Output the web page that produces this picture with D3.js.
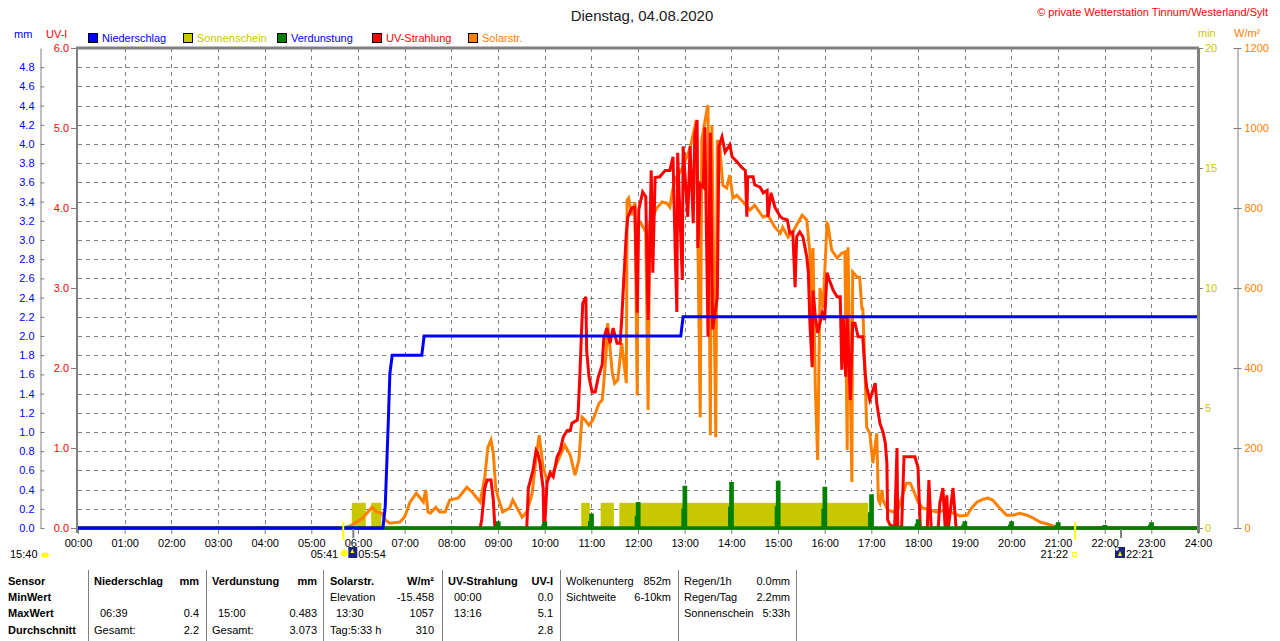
<!DOCTYPE html>
<html>
<head>
<meta charset="utf-8">
<script src="https://cdn.jsdelivr.net/npm/d3@7/dist/d3.min.js"></script>
<style>
body { margin: 0; background: #fff; }
text { font-family: "Liberation Sans", Arial, sans-serif; font-size: 11px; }
</style>
</head>
<body>
<div id="chart"></div>
<script>
// Werte
var titleText = "Dienstag, 04.08.2020";
var copyText = "\u00a9 private Wetterstation Tinnum/Westerland/Sylt";

var hourLabels = ["00:00","01:00","02:00","03:00","04:00","05:00","06:00","07:00","08:00","09:00","10:00","11:00","12:00",
    "13:00","14:00","15:00","16:00","17:00","18:00","19:00","20:00","21:00","22:00","23:00","24:00"];
var mmTicks = [0.0,0.2,0.4,0.6,0.8,1.0,1.2,1.4,1.6,1.8,2.0,2.2,2.4,2.6,2.8,3.0,3.2,3.4,3.6,3.8,4.0,4.2,4.4,4.6,4.8];
var uvTicks = [0,1,2,3,4,5,6];
var minTicks = [0,5,10,15,20];
var solarTicks = [0,200,400,600,800,1000,1200];

var legendNames = ["Niederschlag","Sonnenschein","Verdunstung","UV-Strahlung","Solarstr."];
var legendColors = ["#0000ff","#c8c800","#008000","#ff0000","#ff8000"];
var legendTextColors = ["#0000ff","#c8c800","#0000ff","#ff0000","#ff8000"];

// Niederschlag Tagessumme (mm)
var rainSeries = [["00:00",0],["06:32",0],["06:35",0.22],["06:39",1.12],["06:41",1.61],["06:44",1.8],
    ["07:22",1.8],["07:25",2.0],["12:55",2.0],["12:58",2.2],["24:00",2.2]];

// Sonnenschein (min)
var sunStart = ["05:52","06:17","10:47","11:12","11:36"];
var sunEnd   = ["06:10","06:30","10:58","11:29","16:56"];
var sunValue = [1.05,1.05,1.05,1.05,1.05];

// Verdunstung je Stunde (mm)
var evapTime = ["01:00","02:00","03:00","04:00","05:00","06:00","07:00","08:00","09:00","10:00","11:00","12:00",
    "13:00","14:00","15:00","16:00","17:00","18:00","19:00","20:00","21:00","22:00","23:00"];
var evapValue = [0.01,0.01,0.01,0.01,0.01,0.01,0.01,0.01,0.06,0.06,0.14,0.26,
    0.43,0.47,0.483,0.42,0.34,0.08,0.06,0.06,0.05,0.02,0.05];

// UV-Index
var uvSeries = [["00:00",0],["08:37",0],["08:39",0.1],["08:43",0.5],["08:46",0.6],["08:51",0.6],["08:54",0.35],["08:56",0],
    ["09:37",0],["09:39",0.5],["09:41",0.57],["09:45",0.72],["09:49",0.97],["09:51",0.94],["09:54",0.81],["09:58",0.5],
    ["09:59",0],["10:00",0],["10:03",0.56],["10:07",0.69],["10:11",0.64],["10:16",0.89],["10:20",0.97],["10:24",1.14],
    ["10:29",1.22],["10:33",1.22],["10:35",1.31],["10:42",1.35],["10:43",1.44],["10:45",1.85],["10:48",2.6],["10:49",2.81],
    ["10:53",2.89],["10:54",2.22],["10:57",1.89],["11:01",1.7],["11:05",1.7],["11:09",1.89],["11:14",2.04],["11:16",2.37],
    ["11:20",2.5],["11:24",2.31],["11:28",2.5],["11:33",2.31],["11:37",2.31],["11:39",2.6],["11:41",2.97],["11:45",3.69],
    ["11:47",3.89],["11:52",4.0],["11:56",4.01],["11:59",2.69],["12:01",3.98],["12:06",4.2],["12:10",4.14],["12:13",2.6],
    ["12:17",4.47],["12:19",3.19],["12:22",4.38],["12:28",4.39],["12:35",4.47],["12:41",4.47],["12:45",4.64],["12:48",3.39],
    ["12:50",2.7],["12:51",4.69],["12:57",3.1],["12:58",4.77],["13:04",3.89],["13:07",4.77],["13:11",3.81],["13:13",4.9],
    ["13:16",5.1],["13:17",3.5],["13:20",4.3],["13:24",4.26],["13:26",5.01],["13:30",2.39],["13:33",4.94],["13:36",2.48],
    ["13:42",2.89],["13:44",4.77],["13:48",4.89],["13:52",4.7],["13:58",4.79],["14:01",4.64],["14:07",4.58],["14:14",4.5],
    ["14:18",4.47],["14:20",3.89],["14:21",4.39],["14:28",4.39],["14:30",4.29],["14:37",4.26],["14:41",4.19],["14:46",4.22],
    ["14:47",3.89],["14:51",4.19],["14:56",4.01],["15:03",3.89],["15:06",3.87],["15:12",3.85],["15:15",3.69],["15:19",3.7],
    ["15:22",3.01],["15:24",3.64],["15:28",3.7],["15:32",3.64],["15:37",3.39],["15:39",3.2],["15:41",2.56],["15:44",2.01],
    ["15:45",2.97],["15:48",2.64],["15:51",2.44],["15:57",2.69],["16:00",2.6],["16:03",3.19],["16:06",3.1],["16:11",2.97],
    ["16:16",2.89],["16:20",2.89],["16:22",1.98],["16:24",2.64],["16:27",1.89],["16:29",2.64],["16:33",1.6],["16:36",2.56],
    ["16:39",2.56],["16:43",2.39],["16:49",2.39],["16:52",1.94],["16:54",1.76],["16:58",1.6],["17:05",1.81],["17:07",1.56],
    ["17:11",1.31],["17:15",1.2],["17:18",1.06],["17:20",0.81],["17:21",0.1],["17:24",0.04],["17:30",0.01],["17:33",1.0],
    ["17:34",0.01],["17:39",0.01],["17:42",0.89],["17:56",0.89],["18:00",0.76],["18:03",0],["18:12",0],["18:14",0.6],
    ["18:17",0],["18:26",0],["18:28",0.31],["18:32",0.5],["18:35",0],["18:37",0.41],["18:39",0],["18:45",0.5],
    ["18:49",0],["24:00",0]];

// Solarstrahlung (W/m2)
var solarSeries = [["00:00",0],["05:41",0],["05:50",5],["06:06",25],["06:18",52],["06:24",40],["06:31",37],["06:35",20],
    ["06:41",12],["06:54",15],["07:00",28],["07:07",65],["07:15",87],["07:20",75],["07:24",65],["07:27",95],["07:30",40],
    ["07:33",37],["07:40",52],["07:45",40],["07:52",40],["07:58",70],["08:09",75],["08:20",102],["08:28",87],["08:37",65],
    ["08:43",127],["08:47",202],["08:51",220],["08:54",187],["08:57",102],["09:00",77],["09:06",40],["09:15",50],["09:19",70],
    ["09:24",52],["09:31",27],["09:37",40],["09:44",87],["09:49",177],["09:53",232],["09:58",152],["10:03",120],["10:11",140],
    ["10:20",182],["10:26",207],["10:33",182],["10:39",132],["10:44",170],["10:48",277],["10:52",270],["10:57",257],
    ["11:02",270],["11:10",312],["11:14",320],["11:16",362],["11:19",437],["11:21",512],["11:27",387],["11:30",362],
    ["11:34",370],["11:39",462],["11:45",362],["11:46",820],["11:48",825],["11:52",782],["11:56",815],["11:59",332],
    ["12:00",765],["12:03",765],["12:10",740],["12:13",295],["12:15",760],["12:24",800],["12:31",815],["12:37",812],
    ["12:41",802],["12:44",840],["12:48",875],["12:51",880],["12:57",900],["13:03",930],["13:07",950],["13:15",1020],
    ["13:20",277],["13:22",970],["13:29",1050],["13:30",1057],["13:33",232],["13:35",1007],["13:40",227],["13:42",970],
    ["13:45",957],["13:49",857],["13:54",850],["13:58",882],["14:02",825],["14:07",832],["14:15",815],["14:24",795],
    ["14:30",807],["14:37",787],["14:41",777],["14:47",782],["14:56",752],["15:03",737],["15:06",752],["15:13",727],
    ["15:19",740],["15:31",782],["15:37",770],["15:41",687],["15:44",445],["15:45",700],["15:48",350],["15:51",170],
    ["15:54",600],["15:58",550],["16:03",762],["16:04",760],["16:09",695],["16:16",675],["16:22",687],["16:26",690],
    ["16:29",195],["16:30",702],["16:35",115],["16:36",640],["16:42",627],["16:45",627],["16:48",545],["16:49",552],
    ["16:52",387],["16:54",252],["16:58",237],["17:02",162],["17:07",237],["17:09",70],["17:11",62],["17:14",95],
    ["17:15",70],["17:21",45],["17:28",40],["17:34",45],["17:39",75],["17:45",112],["17:50",112],["17:54",95],
    ["18:00",65],["18:06",50],["18:15",45],["18:24",40],["18:37",45],["18:45",37],["18:54",30],["19:03",32],["19:09",50],
    ["19:16",65],["19:24",72],["19:30",75],["19:36",70],["19:45",50],["19:54",32],["20:02",32],["20:11",37],["20:20",32],
    ["20:28",25],["20:37",15],["20:46",10],["20:54",5],["21:03",0],["24:00",0]];

// Sonne / Mond
var dayLength = "15:40";
var sunRiseSet = ["05:41","21:22"];
var moonTimes = ["05:54","22:21"];

// Tabelle unten
var tableHead = ["Sensor","Niederschlag","mm","Verdunstung","mm","Solarstr.","W/m\u00b2","UV-Strahlung","UV-I"];
var rowNames = ["MinWert","MaxWert","Durchschnitt"];
var rainCells = [["",""],["06:39","0.4"],["Gesamt:","2.2"]];
var evapCells = [["",""],["15:00","0.483"],["Gesamt:","3.073"]];
var solarCells = [["Elevation","-15.458"],["13:30","1057"],["Tag:5:33 h","310"]];
var uvCells = [["00:00","0.0"],["13:16","5.1"],["","2.8"]];
var extraCells = [["Wolkenunterg","852m"],["Sichtweite","6-10km"]];
var rainInfo = [["Regen/1h","0.0mm"],["Regen/Tag","2.2mm"],["Sonnenschein","5:33h"]];

var W = 1280, H = 641;
var plotL = 78, plotR = 1198, plotT = 48, plotB = 528;
var grey = "#808080";

function toMin(s) {
    var p = s.split(":");
    return +p[0] * 60 + +p[1];
}

var svg = d3.select("#chart")
    .append("svg")
    .attr("width", W)
    .attr("height", H);

//Escalas
var x = d3.scaleLinear().domain([0, 1440]).range([plotL, plotR]);
var yMm = d3.scaleLinear().domain([0, 5]).range([plotB, plotT]);
var yUv = d3.scaleLinear().domain([0, 6]).range([plotB, plotT]);
var yMin = d3.scaleLinear().domain([0, 20]).range([plotB, plotT]);
var ySolar = d3.scaleLinear().domain([0, 1200]).range([plotB, plotT]);

// Gitter
svg.append("g").selectAll("line")
    .data(mmTicks.slice(1))
    .enter().append("line")
    .attr("x1", plotL).attr("x2", plotR)
    .attr("y1", d => Math.round(yMm(d)) + 0.5).attr("y2", d => Math.round(yMm(d)) + 0.5)
    .attr("stroke", grey).attr("stroke-dasharray", "4,4");

svg.append("g").selectAll("line")
    .data(hourLabels.slice(1, 24))
    .enter().append("line")
    .attr("x1", d => Math.round(x(toMin(d))) + 0.5).attr("x2", d => Math.round(x(toMin(d))) + 0.5)
    .attr("y1", plotT).attr("y2", plotB)
    .attr("stroke", grey).attr("stroke-dasharray", "4,4");

// Achsen
var xaxis = d3.axisBottom(x)
    .tickValues(hourLabels.map(toMin))
    .tickFormat((d, i) => hourLabels[i])
    .tickSizeInner(5).tickSizeOuter(0).tickPadding(5);
var gx = svg.append("g").attr("transform", "translate(0," + (plotB + 1) + ")").call(xaxis);
gx.select(".domain").attr("stroke", grey);
gx.selectAll("line").attr("stroke", grey);
gx.selectAll("text").attr("fill", "#000").style("font-size", "11px");

var mmAxis = d3.axisLeft(yMm)
    .tickValues(mmTicks)
    .tickFormat(d3.format(".1f"))
    .tickSizeInner(-4).tickSizeOuter(0).tickPadding(6);
var gmm = svg.append("g").attr("transform", "translate(40.5,0)").call(mmAxis);
gmm.selectAll("line, .domain").attr("stroke", grey);
gmm.selectAll("text").attr("fill", "#0000ff").style("font-size", "11px");

var uvAxis = d3.axisLeft(yUv)
    .tickValues(uvTicks)
    .tickFormat(d3.format(".1f"))
    .tickSizeInner(6).tickSizeOuter(0).tickPadding(2);
var guv = svg.append("g").attr("transform", "translate(77,0)").call(uvAxis);
guv.select(".domain").remove();
guv.selectAll("line").attr("stroke", grey);
guv.selectAll("text").attr("fill", "#ff0000").style("font-size", "11px");

var minAxis = d3.axisRight(yMin)
    .tickValues(minTicks)
    .tickSizeInner(4).tickSizeOuter(0).tickPadding(2);
var gmin = svg.append("g").attr("transform", "translate(1199,0)").call(minAxis);
gmin.select(".domain").remove();
gmin.selectAll("line").attr("stroke", grey);
gmin.selectAll("text").attr("fill", "#c8c800").style("font-size", "11px");

var solarAxis = d3.axisRight(ySolar)
    .tickValues(solarTicks)
    .tickFormat(d3.format("d"))
    .tickSizeInner(4).tickSizeOuter(0).tickPadding(3);
var gsol = svg.append("g").attr("transform", "translate(1237.5,0)").call(solarAxis);
gsol.select(".domain").attr("stroke", grey);
gsol.selectAll("line").attr("x1", -4).attr("stroke", grey);
gsol.selectAll("text").attr("fill", "#ff8000").style("font-size", "11px");

// Sonnenschein Balken
svg.append("g").selectAll("rect")
    .data(sunStart)
    .enter().append("rect")
    .attr("x", d => x(toMin(d)))
    .attr("width", (d, i) => x(toMin(sunEnd[i])) - x(toMin(d)))
    .attr("y", (d, i) => yMin(sunValue[i]))
    .attr("height", (d, i) => yMin(0) - yMin(sunValue[i]))
    .attr("fill", "#c8c800");

// Solarstrahlung
svg.append("path")
    .datum(solarSeries)
    .attr("d", d3.line().x(d => x(toMin(d[0]))).y(d => ySolar(d[1])))
    .attr("fill", "none")
    .attr("stroke", "#ff8000")
    .attr("stroke-width", 3);

// UV
svg.append("path")
    .datum(uvSeries)
    .attr("d", d3.line().x(d => x(toMin(d[0]))).y(d => yUv(d[1])))
    .attr("fill", "none")
    .attr("stroke", "#ff0000")
    .attr("stroke-width", 3);

// Verdunstung Spitzen (Grundlinie liegt ueber den Nullwerten)
var evapPts = [[0, 0]];
evapTime.forEach(function(t, i) {
    var m = toMin(t);
    evapPts.push([m - 3, 0], [m - 3, evapValue[i] * 0.45], [m - 1.5, evapValue[i] * 0.45],
        [m - 1.5, evapValue[i]], [m + 2, evapValue[i]], [m + 2, 0]);
});
evapPts.push([1440, 0]);
svg.append("path")
    .datum(evapPts)
    .attr("d", d3.line().x(d => x(d[0])).y(d => yMm(d[1])))
    .attr("fill", "#008000")
    .attr("stroke", "#008000")
    .attr("stroke-width", 2);
svg.append("line")
    .attr("x1", x(0)).attr("x2", x(1440))
    .attr("y1", yMm(0)).attr("y2", yMm(0))
    .attr("stroke", "#008000").attr("stroke-width", 3.5);

// Niederschlag
svg.append("path")
    .datum(rainSeries)
    .attr("d", d3.line().x(d => x(toMin(d[0]))).y(d => yMm(d[1])))
    .attr("fill", "none")
    .attr("stroke", "#0000ff")
    .attr("stroke-width", 3);

// Rahmen
svg.append("line").attr("x1", 76).attr("x2", 1199).attr("y1", plotT).attr("y2", plotT)
    .attr("stroke", grey).attr("stroke-width", 3);
svg.append("line").attr("x1", 77).attr("x2", 77).attr("y1", plotT).attr("y2", plotB + 5)
    .attr("stroke", grey).attr("stroke-width", 2);
svg.append("line").attr("x1", 1198.5).attr("x2", 1198.5).attr("y1", plotT).attr("y2", plotB + 5)
    .attr("stroke", grey).attr("stroke-width", 3);

// Titel
svg.append("text").attr("x", 642).attr("y", 21).attr("text-anchor", "middle")
    .style("font-size", "15px").attr("fill", "#202020").text(titleText);
svg.append("text").attr("x", 1268).attr("y", 16).attr("text-anchor", "end")
    .attr("fill", "#ff0000").text(copyText);

// Einheiten
svg.append("text").attr("x", 14).attr("y", 38).attr("fill", "#0000ff").text("mm");
svg.append("text").attr("x", 46).attr("y", 38).attr("fill", "#ff0000").text("UV-I");
svg.append("text").attr("x", 1198).attr("y", 37).attr("fill", "#c8c800").text("min");
svg.append("text").attr("x", 1234).attr("y", 37).attr("fill", "#ff8000").text("W/m\u00b2");

// Legende
var leg = svg.append("g").selectAll("g")
    .data(legendNames)
    .enter().append("g")
    .attr("transform", (d, i) => "translate(" + [88, 183, 277, 372, 468][i] + ",33)");
leg.append("rect").attr("width", 9).attr("height", 9).attr("x", 0.5).attr("y", 0.5)
    .attr("fill", (d, i) => legendColors[i]).attr("stroke", "#000");
leg.append("text").attr("x", 14).attr("y", 9)
    .attr("fill", (d, i) => legendTextColors[i]).text(d => d);

// Sonnenaufgang / Mond
var astro = svg.append("g");
sunRiseSet.forEach(function(t) {
    astro.append("line").attr("x1", x(toMin(t))).attr("x2", x(toMin(t)))
        .attr("y1", 522).attr("y2", 540).attr("stroke", "#ffff00").attr("stroke-width", 2);
});
moonTimes.forEach(function(t) {
    astro.append("line").attr("x1", x(toMin(t))).attr("x2", x(toMin(t)))
        .attr("y1", 529).attr("y2", 538).attr("stroke", grey).attr("stroke-width", 2);
});
astro.append("text").attr("x", 10).attr("y", 558).text(dayLength);
astro.append("ellipse").attr("cx", 45).attr("cy", 555).attr("rx", 4).attr("ry", 2.5).attr("fill", "#ffff00");

var sx = x(toMin(sunRiseSet[0]));
astro.append("text").attr("x", sx - 5).attr("y", 558).attr("text-anchor", "end").text(sunRiseSet[0]);
astro.append("circle").attr("cx", sx + 1).attr("cy", 553).attr("r", 3.5).attr("fill", "#ffff00");
var mx = x(toMin(moonTimes[0]));
astro.append("rect").attr("x", mx - 5).attr("y", 547).attr("width", 9).attr("height", 11).attr("fill", "#1a237e");
astro.append("path").attr("d", "M" + (mx - 1) + ",549l-2,4h4z").attr("fill", "#ffff00");
astro.append("text").attr("x", mx + 5).attr("y", 558).text(moonTimes[0]);

var ssx = x(toMin(sunRiseSet[1]));
astro.append("text").attr("x", ssx - 7).attr("y", 558).attr("text-anchor", "end").text(sunRiseSet[1]);
astro.append("rect").attr("x", ssx - 2.5).attr("y", 552.5).attr("width", 4).attr("height", 4)
    .attr("fill", "none").attr("stroke", "#ffff00");
var mx2 = x(toMin(moonTimes[1]));
astro.append("rect").attr("x", mx2 - 6).attr("y", 547).attr("width", 10).attr("height", 11).attr("fill", "#1a237e");
astro.append("circle").attr("cx", mx2 - 4).attr("cy", 549).attr("r", 1.8).attr("fill", "#fff");
astro.append("path").attr("d", "M" + (mx2 - 1) + ",551l-2,5h4z").attr("fill", "#ffff00");
astro.append("text").attr("x", mx2 + 5).attr("y", 558).text(moonTimes[1]);

// Tabelle
var tab = svg.append("g");
[88, 206, 323, 442, 560, 678, 796].forEach(function(sx) {
    tab.append("line").attr("x1", sx + 0.5).attr("x2", sx + 0.5).attr("y1", 570).attr("y2", 641)
        .attr("stroke", grey);
});
var rowY = [585, 601, 617, 634];
function cell(tx, ty, s, anchor, bold) {
    tab.append("text").attr("x", tx).attr("y", ty).attr("text-anchor", anchor || "start")
        .style("font-weight", bold ? "bold" : "normal").attr("fill", "#000").text(s);
}
var headX = [8, 94, 199, 212, 317, 330, 434, 448, 553];
tableHead.forEach(function(s, i) {
    var anchor = (i == 2 || i == 4 || i == 6 || i == 8) ? "end" : "start";
    cell(headX[i], rowY[0], s, anchor, true);
});
rowNames.forEach(function(s, i) { cell(8, rowY[i + 1], s, "start", true); });

var groups = [[rainCells, 94, 199], [evapCells, 212, 317], [solarCells, 330, 434], [uvCells, 448, 553]];
groups.forEach(function(g) {
    g[0].forEach(function(c, i) {
        var lx = g[1];
        if (/^\d\d:\d\d$/.test(c[0])) lx = g[1] + 6;
        cell(lx, rowY[i + 1], c[0], "start", false);
        cell(g[2], rowY[i + 1], c[1], "end", false);
    });
});
extraCells.forEach(function(c, i) {
    cell(566, rowY[i], c[0]);
    cell(671, rowY[i], c[1], "end");
});
rainInfo.forEach(function(c, i) {
    cell(684, rowY[i], c[0]);
    cell(790, rowY[i], c[1], "end");
});
</script>
</body>
</html>
